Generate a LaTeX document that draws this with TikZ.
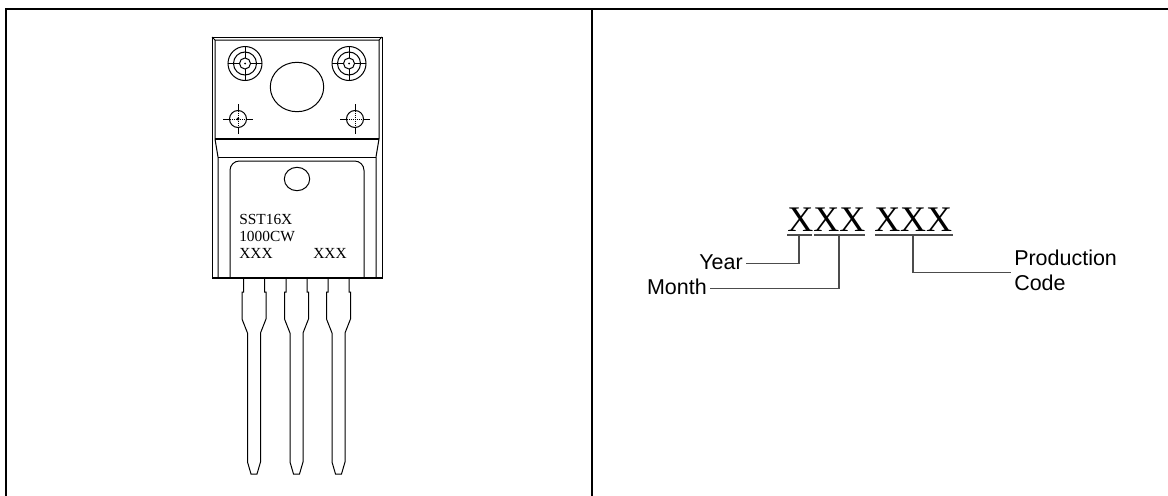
\documentclass[tikz,border=0pt]{standalone}
\usepackage{fontspec}
\setmainfont{Liberation Serif}
\newfontfamily\labelfont{Liberation Sans}
\tikzset{
	frameline/.style={line width=1.9pt},
	outline/.style={line width=0.75pt},
	fineline/.style={line width=0.55pt},
	leader/.style={line width=1pt,black!70},
	marktext/.style={inner sep=0pt,anchor=base west,font=\fontsize{11.55}{12.75}\selectfont},
	codetext/.style={inner sep=0pt,anchor=base west,font=\fontsize{27}{30}\selectfont},
	partlabel/.style={inner sep=0pt,text height=11.55pt,text depth=3.4pt,font=\labelfont\fontsize{16.1}{18.75}\selectfont}
}
\begin{document}
\begin{tikzpicture}[x=0.75pt,y=-0.75pt]
	\useasboundingbox (0,0) rectangle (1168,496);
	\fill[white] (0,0) rectangle (1168,496);
	% frame
	\draw[frameline] (6,496)--(6,9)--(1168,9);
	\draw[frameline] (592,9)--(592,496);
	% package body
	\draw[outline] (212,37)--(382,37)--(382,278)--(212,278)--cycle;
	\draw[outline] (212,37)--(215,40)--(379,40)--(382,37);
	\draw[outline] (215,40)--(215,139)--(218,157)--(218,278);
	\draw[outline] (379,40)--(379,139)--(376,157)--(376,278);
	\draw[line width=1.1pt] (215,139)--(379,139);
	\draw[outline] (218,157)--(376,157);
	\draw[line width=1.2pt] (212,278)--(382,278);
	\draw[outline,rounded corners=7pt] (230,278)--(230,161)--(364,161)--(364,278);
	% holes
	\draw[outline] (297,87) ellipse [x radius=26.7,y radius=24.7];
	\draw[outline] (297,179) ellipse [x radius=12.7,y radius=11.7];
	\foreach \cx in {245,349}{
		\draw[outline] (\cx,63.5) circle (17) circle (11.5) circle (5.5);
		\draw[fineline] (\cx-17,63.5)--(\cx-5.5,63.5) (\cx+5.5,63.5)--(\cx+17,63.5);
		\draw[fineline] (\cx,46.5)--(\cx,58) (\cx,69)--(\cx,80.5);
		\fill (\cx,63.5) circle (1);
	}
	\foreach \cx in {238,355}{
		\draw[outline] (\cx,119) circle (8.5);
		\draw[fineline] (\cx-15,119)--(\cx-8.5,119) (\cx+8.5,119)--(\cx+15,119);
		\draw[fineline] (\cx,104)--(\cx,110.5) (\cx,127.5)--(\cx,134);
		\draw[fineline,densely dotted] (\cx-8.5,119)--(\cx+8.5,119) (\cx,110.5)--(\cx,127.5);
	}
	\fill (238,119) circle (1.6);
	% leads
	\foreach \cx in {254,296.5,338.5}{
		\draw[outline] (\cx-10.5,278)--(\cx-10.5,292)--(\cx-12,292)--(\cx-12,319)--(\cx-6.5,333)--(\cx-6.5,462)--(\cx-3,474)--(\cx+3,474)--(\cx+6.5,462)--(\cx+6.5,333)--(\cx+12,319)--(\cx+12,292)--(\cx+10.5,292)--(\cx+10.5,278);
	}
	% marking
	\node[marktext] (partname) at (239,224) {SST16X};
	\node[marktext] (partrating) at (239,241) {1000CW};
	\node[marktext] (leftcode) at (239,258) {XXX};
	\node[marktext] (rightcode) at (313,258) {XXX};
	% date code
	\node[codetext] (datecode) at (787,231) {XXX XXX};
	\draw[leader] (787,235)--(812,235);
	\draw[leader] (814,235)--(865,235);
	\draw[leader] (875,235)--(953,235);
	\coordinate (yearmark) at (799,235);
	\coordinate (monthmark) at (839,235);
	\coordinate (prodmark) at (913,235);
	\node[partlabel,anchor=base east] (year) at (743,269) {Year};
	\node[partlabel,anchor=base east] (month) at (707,294) {Month};
	\node[inner sep=0pt,align=left,anchor=north west,font=\labelfont\fontsize{16.1}{18.75}\selectfont] (prodcode) at (1014,250) {Production\\Code};
	\draw[leader] (year.east)++(3,0)-|(yearmark);
	\draw[leader] (month.east)++(3,0)-|(monthmark);
	\draw[leader] (prodmark)|-([xshift=-2.25pt,yshift=-1.5pt]prodcode.west);
\end{tikzpicture}
\end{document}
